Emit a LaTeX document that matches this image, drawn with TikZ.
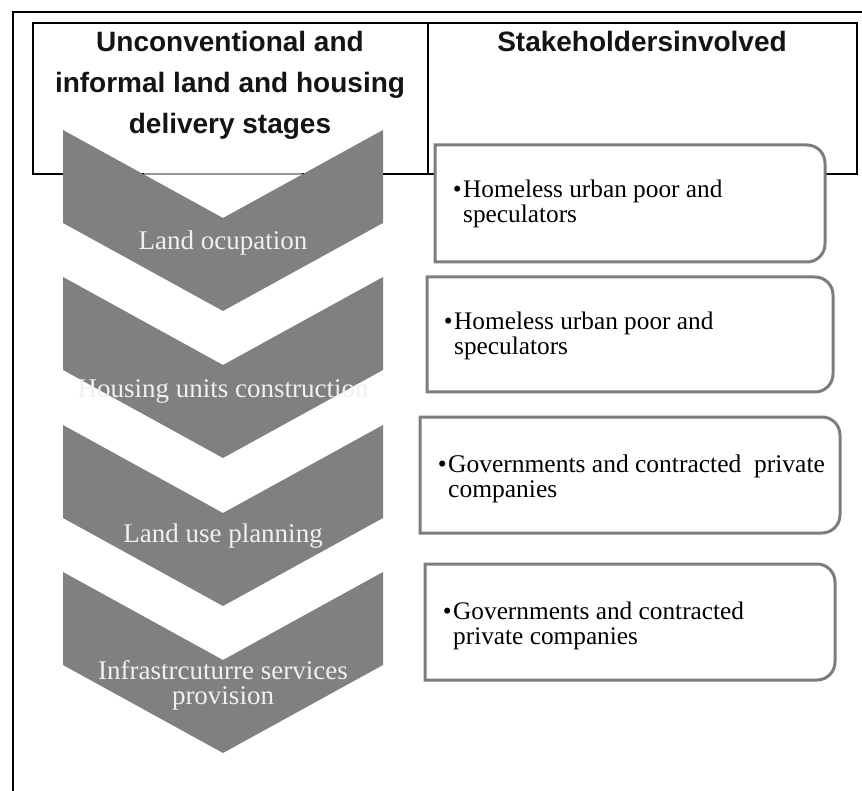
\documentclass[tikz,border=0pt]{standalone}
\usepackage{fontspec}
\setmainfont{Liberation Serif}
\newfontfamily\hfont{Liberation Sans}
\definecolor{chev}{RGB}{128,128,128}
\definecolor{boxline}{RGB}{125,125,125}
\definecolor{chevtext}{RGB}{240,240,240}
\definecolor{notchline}{RGB}{150,150,150}
\begin{document}
\begin{tikzpicture}[x=1pt,y=1pt,
  frame/.style={line width=1.3pt, black},
  hdr/.style={line width=1.6pt, black},
  chevron/.style={fill=chev, draw=none},
  stagetext/.style={text=chevtext, font=\fontsize{27}{25}\selectfont, align=center, inner sep=0},
  rbox/.style={draw=boxline, line width=3pt, fill=white},
  htext/.style={inner sep=0, anchor=base, text=black!92},
  btext/.style={inner sep=0, anchor=base west}]
\useasboundingbox (0,0) rectangle (862,-791);
% page frame
\draw[frame] (13,-791) -- (13,-12) -- (862,-12);
% header table
\draw[hdr] (33,-23) rectangle (857,-174);
\draw[hdr] (428,-23) -- (428,-174);
\node[htext] (h1) at (230,-52) {\parbox[t]{390pt}{\centering\hfont\bfseries\fontsize{28}{41}\selectfont Unconventional and\\informal land and housing\\delivery stages}};
\node[htext] (h2) at (642,-52) {\hfont\bfseries\fontsize{28}{40}\selectfont Stakeholdersinvolved};
% chevrons
\def\mychev#1{\fill[chevron] (63,-#1) -- (223,-#1-88) -- (383,-#1) -- (383,-#1-93) -- (223,-#1-181) -- (63,-#1-93) -- cycle;}
\mychev{130}
\mychev{277}
\mychev{425}
\mychev{572}
\draw[notchline, line width=1.6pt] (144,-174) -- (302,-174);
\node[stagetext] (s1) at (223,-243) {Land ocupation};
\node[stagetext] (s2) at (223,-391) {Housing units construction};
\node[stagetext] (s3) at (223,-536) {Land use planning};
\node[stagetext] (s4) at (223,-685) {Infrastrcuturre services\\provision};
% stakeholder boxes
\def\mybox#1#2#3#4{\draw[rbox] (#1,-#2) -- (#3-18,-#2) arc[start angle=90,end angle=0,radius=18pt] -- (#3,-#4+18) arc[start angle=0,end angle=-90,radius=18pt] -- (#1,-#4) -- cycle;}
\mybox{435}{145}{825}{262}
\mybox{427}{277}{833}{392}
\mybox{420}{417}{840}{533}
\mybox{425}{564}{835}{680}
\def\bul{\leavevmode\llap{\textbullet\hspace{1.5pt}}}
\node[btext] (t1) at (463,-198) {\parbox[t]{370pt}{\raggedright\fontsize{25.3}{25}\selectfont\bul Homeless urban poor and\\speculators}};
\node[btext] (t2) at (454,-330) {\parbox[t]{370pt}{\raggedright\fontsize{25.3}{25}\selectfont\bul Homeless urban poor and\\speculators}};
\node[btext] (t3) at (448,-472) {\parbox[t]{390pt}{\raggedright\fontsize{25.5}{25}\selectfont\bul Governments and contracted\ \ private\\companies}};
\node[btext] (t4) at (453,-619) {\parbox[t]{370pt}{\raggedright\fontsize{25.3}{25}\selectfont\bul Governments and contracted\\private companies}};
\end{tikzpicture}
\end{document}
